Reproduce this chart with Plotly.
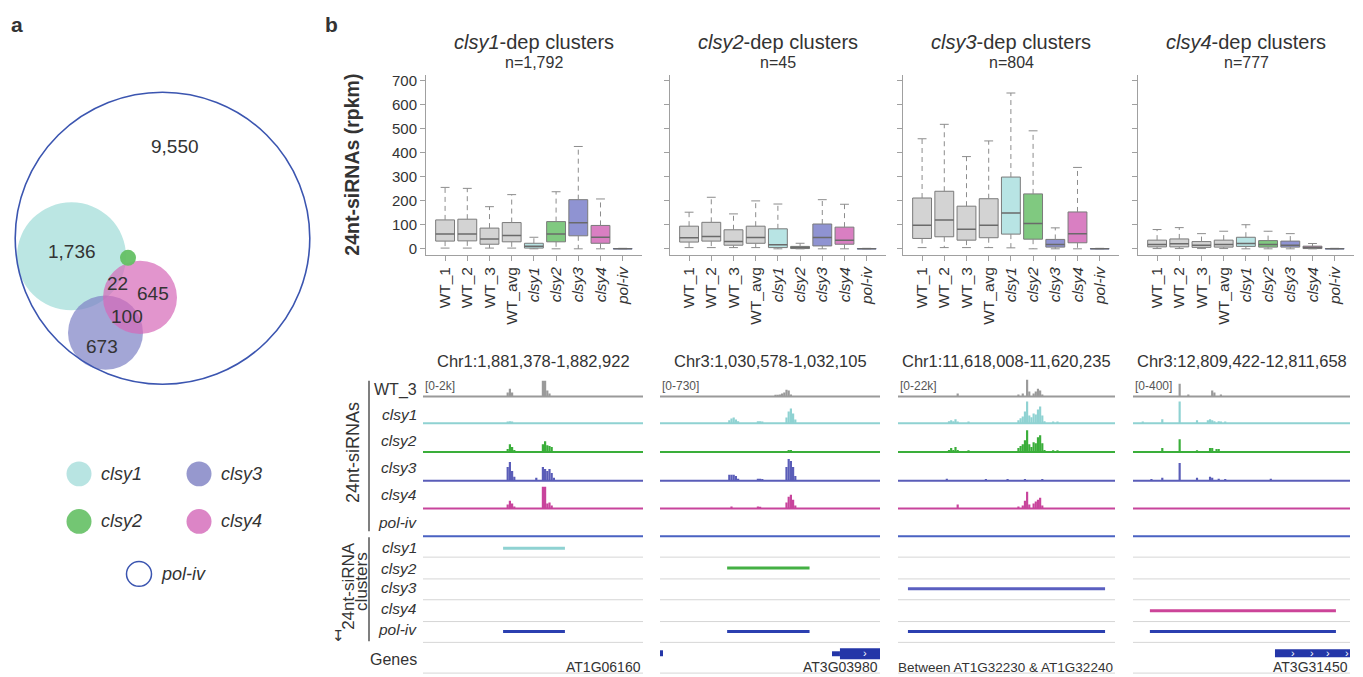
import plotly.graph_objects as go

W, H = 1363, 677
OFF = 8  # page body margin of the browser: figure origin sits at (8, 8)
FONT = "Liberation Sans, Arial, sans-serif"
TXT = "#333333"

# ------------------------------------------------------------------ DATA
# panel a (Venn counts)
venn_counts = ["9,550", "1,736", "22", "645", "100", "673"]
legend_sets = ["clsy1", "clsy3", "clsy2", "clsy4", "pol-iv"]

# panel b, box plots (rpkm)
box_samples = ["WT_1", "WT_2", "WT_3", "WT_avg", "clsy1", "clsy2", "clsy3", "clsy4", "pol-iv"]
box_ticktext = ["WT_1", "WT_2", "WT_3", "WT_avg", "<i>clsy1</i>", "<i>clsy2</i>",
                "<i>clsy3</i>", "<i>clsy4</i>", "<i>pol-iv</i>"]
box_panels = ["clsy1", "clsy2", "clsy3", "clsy4"]
box_n = ["1,792", "45", "804", "777"]
y_ticks = [0, 100, 200, 300, 400, 500, 600, 700]

box_lower = [
    [3, 3, 3, 3, 0, 0, 0, 0, 0],
    [5, 5, 5, 5, 0, 0, 0, 0, 0],
    [5, 5, 5, 5, 4, 0, 0, 0, 0],
    [1, 1, 1, 1, 0, 0, 0, 0, 0],
]
box_q1 = [
    [32, 33, 19, 29, 3, 29, 54, 23, 0],
    [28, 32, 15, 23, 5, 1, 12, 19, 0],
    [43, 50, 36, 46, 61, 40, 7, 25, 0],
    [8, 8, 6, 7, 10, 7, 7, 1, 0],
]
box_median = [
    [62, 62, 41, 55, 11, 62, 108, 48, 0.5],
    [46, 51, 30, 47, 17, 5, 47, 36, 0.5],
    [98, 120, 81, 98, 149, 105, 18, 63, 0.5],
    [18, 21, 15, 18, 22, 18, 15, 5, 0.5],
]
box_q3 = [
    [120, 123, 86, 109, 23, 113, 204, 97, 1],
    [94, 110, 79, 94, 83, 10, 103, 90, 1],
    [211, 239, 177, 208, 298, 228, 39, 153, 1],
    [36, 41, 30, 36, 48, 34, 32, 11, 1],
]
box_upper = [
    [255, 251, 175, 225, 48, 237, 425, 207, 2],
    [152, 214, 145, 199, 186, 23, 204, 185, 2],
    [457, 517, 383, 448, 647, 490, 87, 338, 2],
    [80, 88, 63, 73, 100, 73, 63, 22, 2],
]

# genome browser loci
loci_names = ["Chr1:1,881,378-1,882,922", "Chr3:1,030,578-1,032,105",
              "Chr1:11,618,008-11,620,235", "Chr3:12,809,422-12,811,658"]
loci_start = [1881378, 1030578, 11618008, 12809422]
loci_end = [1882922, 1032105, 11620235, 12811658]
loci_scale_label = ["[0-2k]", "[0-730]", "[0-22k]", "[0-400]"]
loci_scale_max = [2000, 730, 22000, 400]
n_bins = 100
track_samples = ["WT_3", "clsy1", "clsy2", "clsy3", "clsy4", "pol-iv"]

# binned 24nt-siRNA coverage (bin index -> reads)
coverage = [
    {  # locus 1
        "WT_3": {38: 320, 39: 640, 40: 320, 54: 1280, 55: 1280, 56: 480, 57: 240},
        "clsy1": {38: 80, 39: 160, 40: 80},
        "clsy2": {38: 240, 39: 640, 40: 400, 41: 160, 54: 640, 55: 880, 56: 560, 57: 480, 58: 400},
        "clsy3": {38: 1120, 39: 1520, 40: 800, 41: 320, 51: 240, 54: 1120, 55: 960, 56: 800,
                  57: 960, 58: 640, 59: 240},
        "clsy4": {38: 320, 39: 640, 40: 400, 41: 160, 54: 1760, 55: 1760, 56: 400, 57: 480, 58: 240},
        "pol-iv": {},
    },
    {  # locus 2
        "WT_3": {52: 30, 53: 30, 54: 60, 55: 90, 56: 120, 57: 200, 58: 175, 59: 60},
        "clsy1": {31: 90, 32: 145, 33: 175, 34: 115, 35: 60, 44: 60, 45: 60, 46: 30,
                  57: 175, 58: 350, 59: 440, 60: 290, 61: 115},
        "clsy2": {58: 60, 59: 60},
        "clsy3": {31: 175, 32: 175, 33: 175, 34: 145, 35: 60, 44: 60, 45: 60, 46: 30,
                  57: 410, 58: 640, 59: 585, 60: 410, 61: 145},
        "clsy4": {32: 60, 44: 60, 45: 45, 57: 175, 58: 350, 59: 410, 60: 260, 61: 90},
        "pol-iv": {},
    },
    {  # locus 3
        "WT_3": {27: 2640, 55: 1760, 57: 2640, 59: 14960, 60: 4400, 62: 2640, 63: 4400,
                 64: 7040, 65: 5280, 66: 1760},
        "clsy1": {23: 1760, 24: 2640, 25: 1760, 26: 3520, 27: 880, 32: 880, 55: 2640, 56: 4400,
                  57: 6160, 58: 10560, 59: 19360, 60: 7040, 61: 5280, 62: 8800, 63: 7920,
                  64: 12320, 65: 14960, 66: 7040, 67: 1760, 71: 880, 73: 880},
        "clsy2": {23: 1760, 24: 3520, 25: 1760, 26: 4400, 27: 1760, 32: 880, 55: 3520, 56: 5280,
                  57: 7040, 58: 10560, 59: 19360, 60: 7040, 61: 4400, 62: 8800, 63: 7920,
                  64: 13200, 65: 14960, 66: 7920, 67: 1760, 71: 880, 73: 880},
        "clsy3": {22: 1760, 40: 880, 50: 880, 58: 1320, 66: 1320},
        "clsy4": {27: 3520, 55: 1760, 57: 2640, 58: 7040, 59: 14960, 60: 3520, 62: 4400,
                  63: 6160, 64: 7920, 65: 9680, 66: 2640},
        "pol-iv": {},
    },
    {  # locus 4
        "WT_3": {21: 208, 25: 32, 36: 96, 37: 64, 40: 32},
        "clsy1": {4: 16, 13: 64, 21: 352, 29: 48, 34: 48, 35: 64, 36: 48, 37: 32, 39: 32,
                  40: 16, 42: 16},
        "clsy2": {13: 64, 21: 208, 29: 16, 35: 64, 36: 64, 38: 48, 39: 48},
        "clsy3": {8: 16, 13: 48, 21: 288, 29: 48, 35: 64, 36: 48, 39: 32, 42: 16, 63: 32},
        "clsy4": {},
        "pol-iv": {},
    },
]

cluster_sets = ["clsy1", "clsy2", "clsy3", "clsy4", "pol-iv"]
clusters = [
    {"clsy1": (1881940, 1882374), "pol-iv": (1881940, 1882374)},
    {"clsy2": (1031044, 1031616), "pol-iv": (1031044, 1031616)},
    {"clsy3": (11618110, 11620133), "pol-iv": (11618110, 11620133)},
    {"clsy4": (12809596, 12811513), "pol-iv": (12809596, 12811513)},
]
# gene models: (start, end, part)
genes = [
    [],
    [(1030578, 1030599, "small"), (1031772, 1031827, "utr"), (1031827, 1032105, "cds")],
    [],
    [(12810885, 12811658, "exon")],
]
gene_arrows = [[], [1032001], [], [12811071, 12811266, 12811431, 12811627]]
gene_labels = ["AT1G06160", "AT3G03980", "Between AT1G32230 & AT1G32240", "AT3G31450"]

# ------------------------------------------------------------------ STYLE / LAYOUT
box_fill = {"WT": "#d3d3d3", "clsy1": "#b8e4e4", "clsy2": "#80c980", "clsy3": "#8f93d2",
            "clsy4": "#d97fc2", "pol-iv": "#7384d8"}
track_color = {"WT_3": "#9a9a9a", "clsy1": "#8fd2d2", "clsy2": "#3aae3a", "clsy3": "#5a5db8",
               "clsy4": "#c8449c", "pol-iv": "#4a62c2"}
cluster_color = {"clsy1": "#8fd2d2", "clsy2": "#44b044", "clsy3": "#5a5fc0",
                 "clsy4": "#cc4499", "pol-iv": "#2b3fb0"}
GENE_C = "#2436a8"
AX = "#a0a0a0"


def dx(p):
    return (p - OFF) / W


def dy(p):
    return 1 - (p - OFF) / H


def fill_for(s):
    return box_fill["WT"] if s.startswith("WT") else box_fill[s]


box_xdom = [(426, 642), (670, 886), (903, 1119), (1138, 1354)]
loc_xdom = [(423, 643), (660, 880), (898, 1115), (1133, 1350)]
track_base = [396, 423, 452, 481, 509, 537]
TRACK_H = 25
cluster_row_y = [549, 569, 590, 612, 633]
separators_y = [558, 580, 601, 623, 644, 675]

fig = go.Figure()
layout = dict(width=W, height=H, margin=dict(l=0, r=0, t=0, b=0),
              paper_bgcolor="white", plot_bgcolor="rgba(0,0,0,0)",
              showlegend=False, barmode="overlay", font=dict(family=FONT, color=TXT))
# pixel overlay axes (reference-picture pixel coordinates)
layout["xaxis"] = dict(domain=[0, 1], range=[OFF, W + OFF], visible=False, fixedrange=True)
layout["yaxis"] = dict(domain=[0, 1], range=[H + OFF, OFF], visible=False, fixedrange=True)

shapes = []
annotations = []


def ann(x, y, text, size, xanchor="center", yanchor="middle", angle=0, color=TXT, family=FONT):
    annotations.append(dict(x=x, y=y, xref="x", yref="y", text=text, showarrow=False,
                            font=dict(size=size, color=color, family=family),
                            xanchor=xanchor, yanchor=yanchor, textangle=angle))


# ---------------- panel a: Venn
ann(17, 21, "<b>a</b>", 21)
ann(331, 21, "<b>b</b>", 21)
venn_geom = [  # (cx, cy, r, fill, line)
    (71.5, 254.5, 54.5, "rgba(180,227,224,0.9)", None),
    (105.5, 331.5, 37.5, "rgba(128,131,198,0.72)", None),
    (140, 296, 37, "rgba(214,104,184,0.7)", None),
    (128, 256, 8, "rgba(100,192,100,0.95)", None),
    (162.5, 236.3, 147.3, "rgba(0,0,0,0)", "#3b55b0"),
]
for cx, cy, r, fc, lc in venn_geom:
    shapes.append(dict(type="circle", xref="x", yref="y", x0=cx - r, x1=cx + r, y0=cy - r, y1=cy + r,
                       fillcolor=fc, line=dict(color=lc if lc else "rgba(0,0,0,0)", width=1.6)))
venn_label_pos = [(175, 144), (72, 250), (117, 282), (153, 292), (127, 315), (102, 345)]
for (lx, ly), t in zip(venn_label_pos, venn_counts):
    ann(lx, ly, t, 19)

legend_pos = [(79, 474), (199, 474), (79, 522), (199, 522), (139, 575)]
legend_fill = {"clsy1": "rgba(180,227,224,0.95)", "clsy3": "rgba(132,134,198,0.85)",
               "clsy2": "rgba(100,192,100,0.9)", "clsy4": "rgba(214,112,188,0.85)",
               "pol-iv": "rgba(0,0,0,0)"}
for (lx, ly), s in zip(legend_pos, legend_sets):
    r = 12.5
    shapes.append(dict(type="circle", xref="x", yref="y", x0=lx - r, x1=lx + r, y0=ly - r, y1=ly + r,
                       fillcolor=legend_fill[s],
                       line=dict(color="#3b55b0" if s == "pol-iv" else "rgba(0,0,0,0)", width=1.5)))
    ann(lx + 20, ly, "<i>%s</i>" % s, 18, xanchor="left")

# ---------------- panel b top: boxplots
for p in range(4):
    xa, ya = "x%d" % (p + 2), "y%d" % (p + 2)
    xs = list(range(len(box_samples)))
    fills = [fill_for(s) for s in box_samples]
    lines = ["#7a7a7a" if s != "pol-iv" else "#5a70d0" for s in box_samples]
    fig.add_trace(go.Bar(x=xs, base=box_q1[p],
                         y=[b - a for a, b in zip(box_q1[p], box_q3[p])],
                         width=0.85, marker=dict(color=fills, line=dict(color=lines, width=1)),
                         xaxis=xa, yaxis=ya, hoverinfo="skip"))
    mx, my, wx, wy, cx_, cy_ = [], [], [], [], [], []
    for i in xs:
        mx += [i - 0.425, i + 0.425, None]
        my += [box_median[p][i]] * 2 + [None]
        wx += [i, i, None, i, i, None]
        wy += [box_q3[p][i], box_upper[p][i], None, box_q1[p][i], box_lower[p][i], None]
        cx_ += [i - 0.2, i + 0.2, None, i - 0.2, i + 0.2, None]
        cy_ += [box_upper[p][i]] * 2 + [None] + [box_lower[p][i]] * 2 + [None]
    fig.add_trace(go.Scatter(x=wx, y=wy, mode="lines", line=dict(color="#8c8c8c", width=1, dash="5px,4px"),
                             xaxis=xa, yaxis=ya, hoverinfo="skip"))
    fig.add_trace(go.Scatter(x=cx_, y=cy_, mode="lines", line=dict(color="#8c8c8c", width=1),
                             xaxis=xa, yaxis=ya, hoverinfo="skip"))
    fig.add_trace(go.Scatter(x=mx, y=my, mode="lines", line=dict(color="#6a6a6a", width=1.5),
                             xaxis=xa, yaxis=ya, hoverinfo="skip"))
    x0, x1 = box_xdom[p]
    layout["xaxis%d" % (p + 2)] = dict(
        domain=[dx(x0), dx(x1)], range=[-0.86, 8.87], anchor=ya, showline=True, linecolor=AX,
        linewidth=1, ticks="outside", ticklen=5, tickcolor=AX, tickvals=xs, ticktext=box_ticktext,
        tickangle=-90, tickfont=dict(size=15.5, color=TXT), showgrid=False, zeroline=False,
        fixedrange=True)
    layout["yaxis%d" % (p + 2)] = dict(
        domain=[dy(253), dy(72)], range=[-25, 720], anchor=xa, showline=True, linecolor=AX,
        linewidth=1, ticks="outside", ticklen=5, tickcolor=AX, tickvals=y_ticks,
        showticklabels=(p == 0), tickfont=dict(size=15, color=TXT), showgrid=False,
        zeroline=False, fixedrange=True)
    cxp = (x0 + x1) / 2
    ann(cxp, 38, "<i>%s</i>-dep clusters" % box_panels[p], 20)
    ann(cxp, 59, "n=%s" % box_n[p], 16)

ann(352, 162, "<b>24nt-siRNAs (rpkm)</b>", 19.5, angle=-90)

# ---------------- panel b bottom: genome browser
for i in range(4):
    xa = "x%d" % (6 + i)
    a, b = loc_xdom[i]
    s0, s1 = loci_start[i], loci_end[i]
    binw = (s1 - s0) / n_bins
    layout["xaxis%d" % (6 + i)] = dict(domain=[dx(a), dx(b)], range=[s0, s1], anchor="y",
                                       visible=False, fixedrange=True)
    mx_ = loci_scale_max[i]
    for j, smp in enumerate(track_samples):
        k = 6 + i * len(track_samples) + j
        ya = "y%d" % k
        base = track_base[j]
        layout["yaxis%d" % k] = dict(domain=[dy(base + 2), dy(base - TRACK_H)],
                                     range=[-mx_ * 2 / TRACK_H, mx_], anchor=xa,
                                     visible=False, fixedrange=True)
        cov = coverage[i][smp]
        if cov:
            bins = sorted(cov)
            fig.add_trace(go.Bar(x=[s0 + (bn + 0.5) * binw for bn in bins], y=[cov[bn] for bn in bins],
                                 width=binw, marker=dict(color=track_color[smp], line=dict(width=0)),
                                 xaxis=xa, yaxis=ya, hoverinfo="skip"))
        fig.add_trace(go.Scatter(x=[s0, s1], y=[0, 0], mode="lines",
                                 line=dict(color=track_color[smp], width=2),
                                 xaxis=xa, yaxis=ya, hoverinfo="skip"))
    # clusters
    for r, cs in enumerate(cluster_sets):
        if cs in clusters[i]:
            cs0, cs1 = clusters[i][cs]
            fig.add_trace(go.Scatter(x=[cs0, cs1], y=[cluster_row_y[r]] * 2, mode="lines",
                                     line=dict(color=cluster_color[cs], width=3),
                                     xaxis=xa, yaxis="y", hoverinfo="skip"))
    for sy in separators_y:
        shapes.append(dict(type="line", xref="x", yref="y", x0=a, x1=b, y0=sy, y1=sy,
                           line=dict(color="#d6d6d6", width=1)))
    # genes
    for g0, g1, part in genes[i]:
        hy = {"cds": (650, 661), "utr": (653, 658), "small": (652, 658), "exon": (651, 659)}[part]
        shapes.append(dict(type="rect", xref=xa, yref="y", x0=g0, x1=g1, y0=hy[0], y1=hy[1],
                           fillcolor=GENE_C, line=dict(width=0)))
    for ga in gene_arrows[i]:
        annotations.append(dict(x=ga, y=655, xref=xa, yref="y", text="›", showarrow=False,
                                font=dict(size=11, color="white", family=FONT)))
    ann((a + b) / 2, 360, loci_names[i], 16.5)
    ann(a, 385, loci_scale_label[i], 12, xanchor="left", color="#555555")
    ann(b, 669, gene_labels[i], 13.5 if i == 2 else 14, xanchor="right")

# track labels
label_y = [389, 414, 440, 468, 495, 523]
for smp, ly in zip(track_samples, label_y):
    t = smp if smp.startswith("WT") else "<i>%s</i>" % smp
    ann(419, ly, t, 16 if smp.startswith("WT") else 15.5, xanchor="right")
cl_label_y = [548, 569, 589, 610, 631]
for cs, ly in zip(cluster_sets, cl_label_y):
    ann(419, ly, "<i>%s</i>" % cs, 15.5, xanchor="right")
ann(419, 661, "Genes", 16, xanchor="right")

shapes.append(dict(type="line", xref="x", yref="y", x0=369, x1=369, y0=380, y1=532,
                   line=dict(color="#555555", width=1.5)))
shapes.append(dict(type="line", xref="x", yref="y", x0=369, x1=369, y0=538, y1=643,
                   line=dict(color="#555555", width=1.5)))
ann(353, 453, "24nt-siRNAs", 18, angle=-90)
ann(349, 587, "24nt-siRNA", 17, angle=-90)
ann(362, 583, "clusters", 17, angle=-90)
ann(338, 638, "↧", 15, family="DejaVu Sans")

layout["shapes"] = shapes
layout["annotations"] = annotations
fig.update_layout(**layout)
fig.write_html("out.html")
